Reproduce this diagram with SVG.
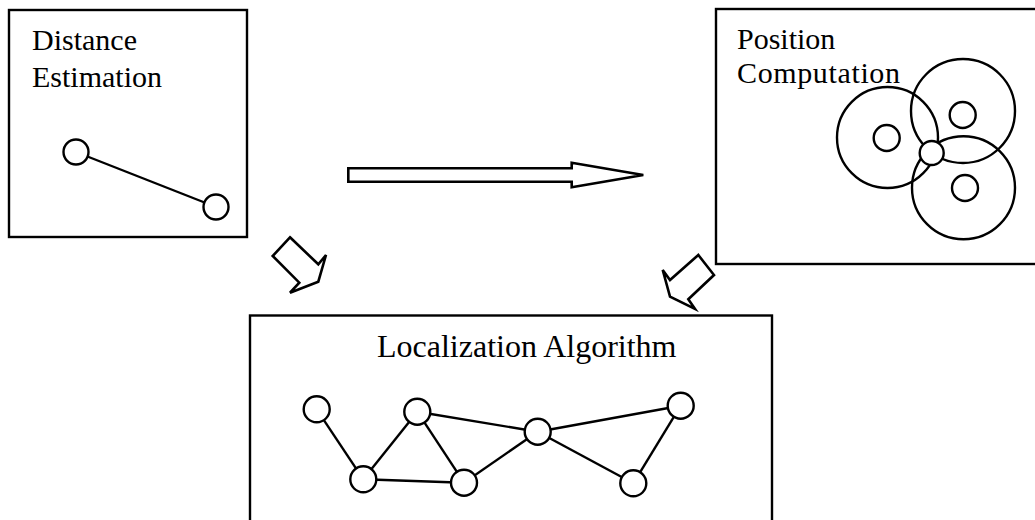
<svg xmlns="http://www.w3.org/2000/svg" width="1035" height="520" viewBox="0 0 1035 520">
<style>
.box{fill:none;stroke:#000;stroke-width:2.4}
.lbl{font-family:"Liberation Serif","Times New Roman",serif;font-size:30px;fill:#000}
.big{font-size:32px}
.nd{fill:#fff;stroke:#000;stroke-width:2.4}
.ring{fill:none;stroke:#000;stroke-width:2.4}
.edge{stroke:#000;stroke-width:2.4;fill:none}
.arr{fill:#fff;stroke:#000;stroke-width:2.6;stroke-linejoin:miter}
</style>
<rect width="1035" height="520" fill="#fff"/>
<g id="distance-estimation">
<rect class="box" x="9" y="10" width="238" height="227"/>
<text class="lbl" x="32" y="50">Distance</text>
<text class="lbl" x="32" y="87">Estimation</text>
<line class="edge" x1="76" y1="152" x2="216" y2="207"/>
<circle class="nd" cx="76" cy="152" r="12.5"/>
<circle class="nd" cx="216" cy="207" r="12.5"/>
</g>
<g id="position-computation">
<rect class="box" x="716" y="9" width="330" height="255"/>
<text class="lbl" x="737" y="49">Position</text>
<text class="lbl" x="737" y="83" textLength="163">Computation</text>
<circle class="ring" cx="887.5" cy="137.5" r="50.5"/>
<circle class="ring" cx="963" cy="111" r="52"/>
<circle class="ring" cx="963.5" cy="187.7" r="51.5"/>
<circle class="nd" cx="886.7" cy="138" r="13"/>
<circle class="nd" cx="962.7" cy="115" r="13"/>
<circle class="nd" cx="965" cy="188" r="13"/>
<circle class="nd" cx="931.7" cy="153" r="12"/>
</g>
<g id="localization-algorithm">
<rect class="box" x="250" y="315.5" width="522" height="230"/>
<text class="lbl big" x="377" y="357">Localization Algorithm</text>
<g id="network-edges">
<line class="edge" x1="316.7" y1="409.3" x2="363.3" y2="479.3"/>
<line class="edge" x1="363.3" y1="479.3" x2="417.3" y2="411.7"/>
<line class="edge" x1="363.3" y1="479.3" x2="464" y2="482.7"/>
<line class="edge" x1="417.3" y1="411.7" x2="464" y2="482.7"/>
<line class="edge" x1="417.3" y1="411.7" x2="537.7" y2="431.7"/>
<line class="edge" x1="464" y1="482.7" x2="537.7" y2="431.7"/>
<line class="edge" x1="537.7" y1="431.7" x2="680.7" y2="405.7"/>
<line class="edge" x1="537.7" y1="431.7" x2="633.3" y2="483.3"/>
<line class="edge" x1="633.3" y1="483.3" x2="680.7" y2="405.7"/>
</g>
<circle class="nd" cx="316.7" cy="409.3" r="13"/>
<circle class="nd" cx="363.3" cy="479.3" r="13"/>
<circle class="nd" cx="417.3" cy="411.7" r="13"/>
<circle class="nd" cx="464" cy="482.7" r="13"/>
<circle class="nd" cx="537.7" cy="431.7" r="13"/>
<circle class="nd" cx="633.3" cy="483.3" r="13"/>
<circle class="nd" cx="680.7" cy="405.7" r="13"/>
</g>
<g id="connectors">
<polygon class="arr" points="348.3,168.3 571.7,168.3 571.7,162.7 643.3,175 571.7,187.3 571.7,181.7 348.3,181.7"/>
<polygon class="arr" points="290,237.3 318.3,264.3 326,255 318.3,281.7 290,292.7 299.3,282.7 272.7,256"/>
<polygon class="arr" points="698.3,255 670,280 662.7,270 670,296.7 695,309 688.3,299.3 714,275"/>
</g>
</svg>
